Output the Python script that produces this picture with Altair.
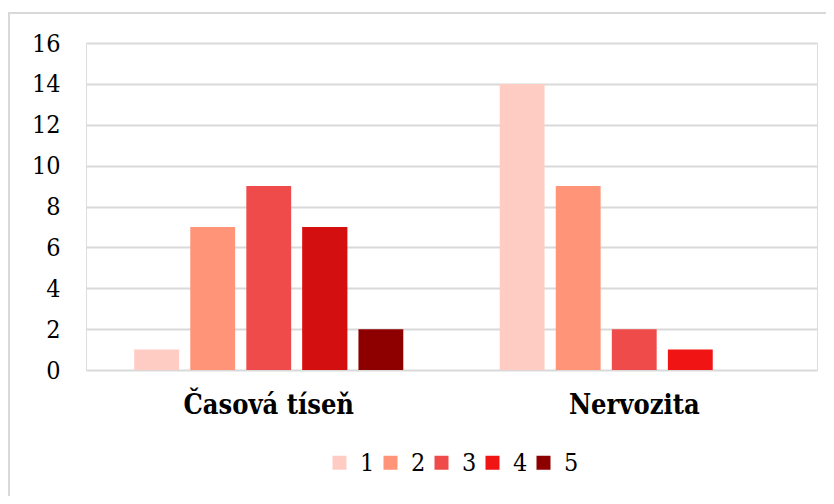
import altair as alt
import pandas as pd

categories = ["Časová tíseň", "Nervozita"]
series = ["1", "2", "3", "4", "5"]
values_casova = [1, 7, 9, 7, 2]
values_nervozita = [14, 9, 2, 1, 0]
palette = ["#FFCCC4", "#FF9478", "#F04B4B", "#F01414", "#8E0000"]
casova_bar4_color = "#D40F0F"
y_ticks = [0, 2, 4, 6, 8, 10, 12, 14, 16]

rows = []
for cat, vals in zip(categories, [values_casova, values_nervozita]):
    for s, v in zip(series, vals):
        rows.append({"kategorie": cat, "serie": s, "hodnota": v})
df = pd.DataFrame(rows)

FONT = "DejaVu Serif Condensed, DejaVu Serif"

x_enc = alt.X("kategorie:N", sort=categories, title=None,
              scale=alt.Scale(paddingInner=0, paddingOuter=0),
              axis=alt.Axis(labelAngle=0, labelFont=FONT, labelFontSize=27,
                            labelFontWeight="bold", labelColor="#000000", labelLimit=0,
                            labelPadding=22, ticks=False, domain=False, grid=False))
xoff_enc = alt.XOffset("serie:N", sort=series,
                       scale=alt.Scale(paddingInner=0.2, paddingOuter=0.86))
y_enc = alt.Y("hodnota:Q", title=None,
              scale=alt.Scale(domain=[0, 16], nice=False),
              axis=alt.Axis(values=y_ticks, labelFont=FONT, labelFontSize=25,
                            labelColor="#000000", labelPadding=26, ticks=False,
                            domain=False, grid=True, gridColor="#D9D9D9",
                            gridWidth=2))

bars = alt.Chart(df).transform_filter(alt.datum.hodnota > 0).mark_bar().encode(
    x=x_enc,
    xOffset=xoff_enc,
    y=y_enc,
    color=alt.Color("serie:N", sort=series,
                    scale=alt.Scale(domain=series, range=palette),
                    legend=alt.Legend(title=None, orient="none", direction="horizontal",
                                      legendX=241, legendY=407,
                                      symbolType="square", symbolSize=196,
                                      symbolStrokeWidth=0,
                                      labelFont=FONT, labelFontSize=25,
                                      labelColor="#000000", labelOffset=8,
                                      columnPadding=3)),
)

overlay = alt.Chart(df).transform_filter(
    (alt.datum.kategorie == categories[0]) & (alt.datum.serie == "4")
).mark_bar(color=casova_bar4_color).encode(
    x=alt.X("kategorie:N", sort=categories),
    xOffset=alt.XOffset("serie:N", sort=series),
    y=alt.Y("hodnota:Q"),
)

border = alt.Chart(pd.DataFrame({"a": [0]})).mark_rect(
    fill=None, stroke="#D9D9D9", strokeWidth=2
).encode(
    x=alt.value(-77), x2=alt.value(800),
    y=alt.value(-30), y2=alt.value(520),
)

chart = alt.layer(border, bars, overlay).properties(
    width=731, height=327,
    padding={"left": 78, "top": 35, "right": 9, "bottom": 126},
    autosize=alt.AutoSizeParams(type="none"),
).configure_view(stroke=None).configure(background="#ffffff", font=FONT)

chart.save("out.html", embed_options={"renderer": "svg", "actions": False})
